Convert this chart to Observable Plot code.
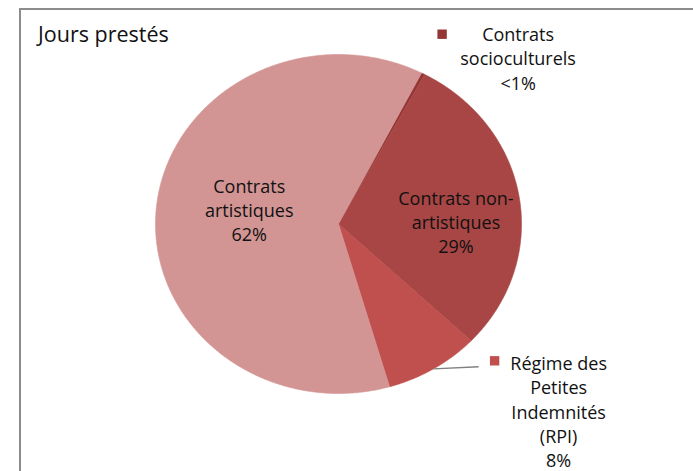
<!DOCTYPE html>
<html><head><meta charset="utf-8">
<script src="https://cdn.jsdelivr.net/npm/d3@7"></script>
<script src="https://cdn.jsdelivr.net/npm/@observablehq/plot@0.6"></script>
<style>
body{margin:0;background:#fff;font-family:"Open Sans",sans-serif;}
#wrap{position:relative;width:693px;height:471px;overflow:hidden;background:#fff;}
#wrap svg{position:absolute;left:0;top:0;}
#frame{position:absolute;left:19px;top:8px;width:800px;height:600px;border-left:2px solid #8c8c8c;border-top:2px solid #8c8c8c;}
#title{position:absolute;left:38px;top:20px;font-size:21.5px;line-height:28px;color:#111;}
</style></head><body>
<div id="wrap"></div>
<script>
// ---- data ----
const categories = ["Contrats socioculturels", "Contrats non-artistiques", "Régime des Petites Indemnités (RPI)", "Contrats artistiques"];
const labelNames = ["Contrats\nsocioculturels", "Contrats non-\nartistiques", "Régime des\nPetites\nIndemnités\n(RPI)", "Contrats\nartistiques"];
const shares = [0.3, 29.3, 8.4, 62.0];
const percentLabels = ["<1%", "29%", "8%", "62%"];
const titleText = "Jours prestés";
const colors = ["#943634", "#A84645", "#C0504D", "#D39594"];

// ---- build slices ----
const rows = categories.map((c, i) => ({cat: c, name: labelNames[i], value: shares[i], pct: percentLabels[i]}));
const start = 27 * Math.PI / 180;
const arcs = d3.pie().sort(null).value(d => d.value).startAngle(start).endAngle(start + 2 * Math.PI)(rows);
const slices = arcs.map(a => ({...a.data, a0: a.startAngle, a1: a.endAngle, mid: (a.startAngle + a.endAngle) / 2}));

const pts = [];
for (const s of slices) {
  pts.push({cat: s.cat, x: 0, y: 0});
  const n = Math.max(2, Math.ceil((s.a1 - s.a0) / (0.4 * Math.PI / 180)));
  for (let k = 0; k <= n; k++) {
    const t = s.a0 + (s.a1 - s.a0) * k / n;
    pts.push({cat: s.cat, x: Math.sin(t), y: Math.cos(t)});
  }
  pts.push({cat: s.cat, x: 0, y: 0});
}
const at = (s, r) => ({x: r * Math.sin(s.mid), y: r * Math.cos(s.mid)});
const byCat = c => slices.find(s => s.cat === c);
const inside = (c, r) => { const s = byCat(c); return [{...s, ...at(s, r)}]; };
const socio = inside(categories[0], 1);
const rpi = inside(categories[2], 1);

const txt = {fontFamily: "Open Sans", fontSize: 18, lineHeight: 1.35, fill: "#111", textAnchor: "middle", lineAnchor: "middle"};

const chart = Plot.plot({
  width: 693, height: 471,
  marginLeft: 155, marginRight: 172, marginTop: 54, marginBottom: 78,
  x: {domain: [-1, 1], axis: null},
  y: {domain: [-1, 1], axis: null},
  color: {domain: categories, range: colors},
  style: {background: "transparent", overflow: "visible"},
  marks: [
    Plot.line(pts, {x: "x", y: "y", z: "cat", fill: "cat", stroke: "cat", strokeWidth: 0.6, curve: "linear"}),
    Plot.text(inside(categories[3], 0.49), {x: "x", y: "y", text: d => d.name + "\n" + d.pct, ...txt, dy: -7}),
    Plot.text(inside(categories[1], 0.65), {x: "x", y: "y", text: d => d.name + "\n" + d.pct, ...txt, dy: 15}),
    Plot.text(socio, {x: "x", y: "y", text: d => d.name + "\n" + d.pct, ...txt, dx: 95, dy: -16}),
    Plot.dot(socio, {x: "x", y: "y", fill: "cat", symbol: "square", r: 5.3, dx: 19, dy: -39.5}),
    Plot.link(rpi, {x1: "x", y1: "y", x2: d => d.x + 0.246, y2: d => d.y + 0.012, stroke: "#808080", strokeWidth: 1.3}),
    Plot.dot(rpi, {x: "x", y: "y", fill: "cat", symbol: "square", r: 5.3, dx: 61, dy: -8}),
    Plot.text(rpi, {x: "x", y: "y", text: d => d.name + "\n" + d.pct, ...txt, dx: 125, dy: 42})
  ]
});
const wrap = document.getElementById("wrap");
wrap.appendChild(chart);
const frame = document.createElement("div"); frame.id = "frame"; wrap.appendChild(frame);
const title = document.createElement("div"); title.id = "title"; title.textContent = titleText; wrap.appendChild(title);
</script>
</body></html>
